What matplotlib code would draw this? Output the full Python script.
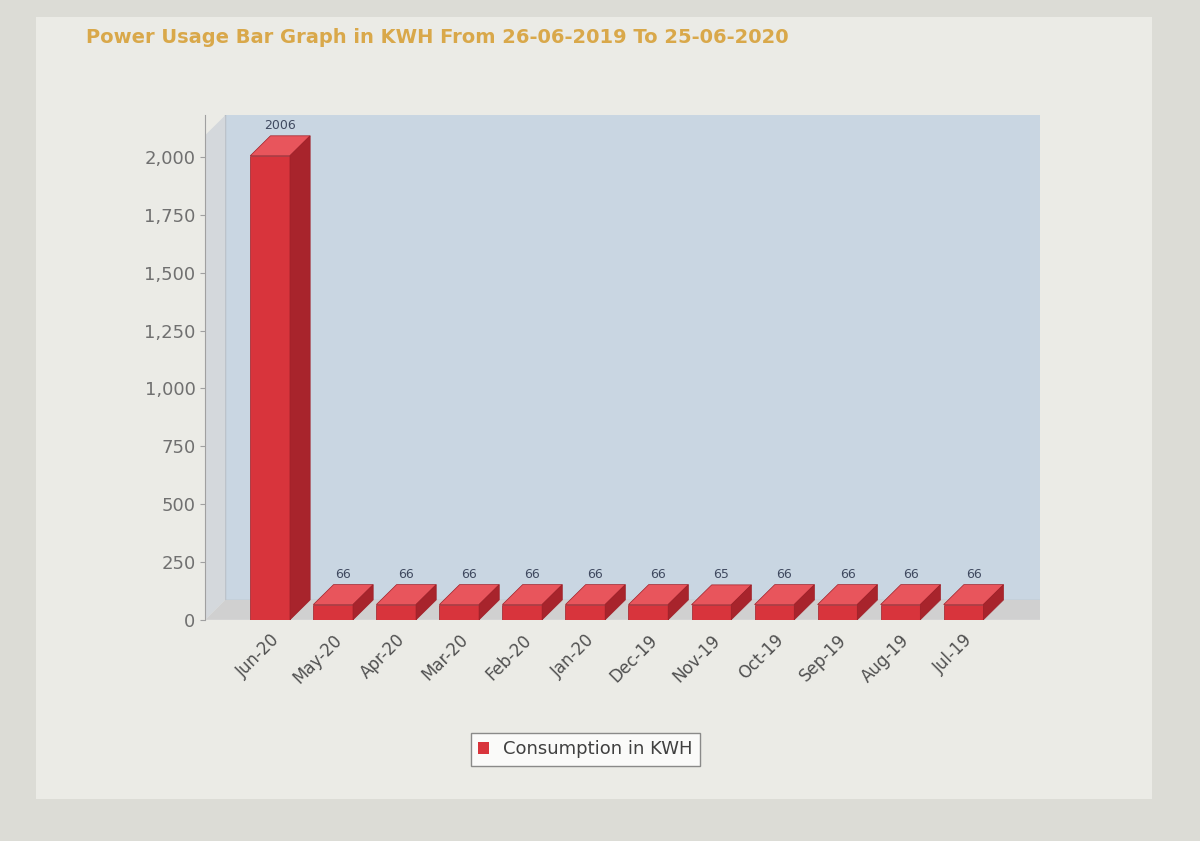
import matplotlib
matplotlib.use("Agg")
import matplotlib.pyplot as plt
from matplotlib.patches import Polygon, Rectangle

months = ["Jun-20","May-20","Apr-20","Mar-20","Feb-20","Jan-20","Dec-19","Nov-19","Oct-19","Sep-19","Aug-19","Jul-19"]
values = [2006,66,66,66,66,66,66,65,66,66,66,66]
yticks = [0,250,500,750,1000,1250,1500,1750,2000]

fig = plt.figure(figsize=(12,8.41), dpi=100)
fig.patch.set_facecolor("#dcdcd6")
fig.patches.append(Rectangle((0.03,0.05),0.93,0.93,transform=fig.transFigure,facecolor="#ebebe6",edgecolor="none",zorder=-5))
fig.text(0.072,0.955,"Power Usage Bar Graph in KWH From 26-06-2019 To 25-06-2020",color="#d9a84a",fontsize=14,fontweight="bold",ha="left",va="center")

ax = fig.add_axes([0.171,0.263,0.696,0.600])
ax.set_xlim(-1.03,12.22); ax.set_ylim(0,2181)
ax.set_facecolor("#ebebe6")
dx, dy = 0.32, 86
# walls
ax.add_patch(Rectangle((-1.03+dx,dy),13.25,2181,facecolor="#c9d6e2",edgecolor="#b0b8c0",zorder=0))
ax.add_patch(Polygon([(-1.03,0),(-1.03+dx,dy),(-1.03+dx,2181),(-1.03,2181-dy)],facecolor="#d4d8dc",edgecolor="none",zorder=0))
ax.add_patch(Polygon([(-1.03,0),(12.22,0),(12.22+dx,dy),(-1.03+dx,dy)],facecolor="#d0d0d0",edgecolor="none",zorder=0))
w = 0.63
for i,v in enumerate(values):
    x0 = i - w/2; x1 = i + w/2
    ax.add_patch(Rectangle((x0,0),w,v,facecolor="#d8343c",edgecolor="#a02028",lw=0.5,zorder=3))
    ax.add_patch(Polygon([(x0,v),(x1,v),(x1+dx,v+dy),(x0+dx,v+dy)],facecolor="#e8555c",edgecolor="#a02028",lw=0.5,zorder=3))
    ax.add_patch(Polygon([(x1,0),(x1+dx,dy),(x1+dx,v+dy),(x1,v)],facecolor="#a8242c",edgecolor="#a02028",lw=0.5,zorder=3))
    ax.text(i+dx/2,v+dy+15,str(v),ha="center",va="bottom",fontsize=9,color="#404a60",zorder=4)
ax.set_yticks(yticks)
ax.set_yticklabels([f"{t:,}" for t in yticks],fontsize=13,color="#707070")
ax.set_xticks(range(len(months)))
ax.set_xticklabels(months,rotation=45,ha="right",rotation_mode="anchor",fontsize=12,color="#505050")
for s in ["top","right","bottom"]:
    ax.spines[s].set_visible(False)
ax.spines["left"].set_color("#a0a0a0")
ax.tick_params(axis="x",length=0,pad=8)
ax.tick_params(axis="y",color="#a0a0a0")

h = Rectangle((0,0),1,1,facecolor="#d8343c")
fig.legend([h],["Consumption in KWH"],loc="center",bbox_to_anchor=(0.488,0.109),fontsize=13,
           frameon=True,fancybox=False,edgecolor="#707070",handlelength=0.6,handleheight=0.6,borderpad=0.4,labelcolor="#404040")
fig.savefig("out.png",dpi=100)
